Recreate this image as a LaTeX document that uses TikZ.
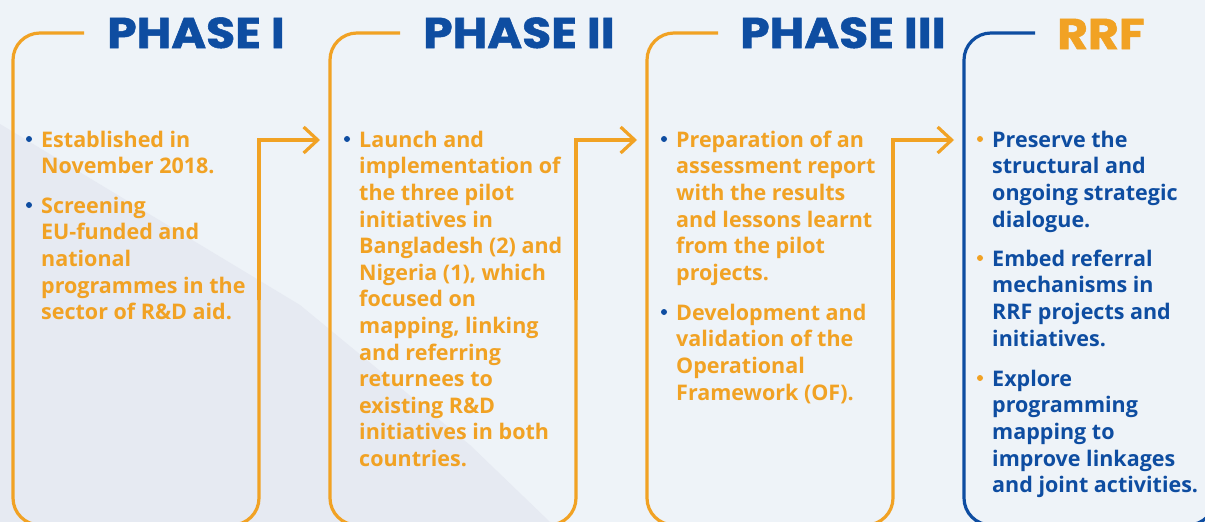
\documentclass[tikz,border=0pt]{standalone}
\usepackage{fontspec}
\setmainfont{Open Sans}
\newfontfamily\titlefont{Poppins}[BoldFeatures={FakeBold=1.2}]
\usetikzlibrary{arrows.meta}
\definecolor{org}{RGB}{241,162,36}
\definecolor{blu}{RGB}{14,77,161}
\definecolor{bgc}{RGB}{238,243,248}
\definecolor{bgd}{RGB}{230,234,242}
\newcommand{\wide}[1]{\scalebox{1.1}[1]{#1}}
\begin{document}
\begin{tikzpicture}[x=1pt,y=-1pt,
  frame/.style={line width=3.2pt, rounded corners=27pt},
  flow/.style={line width=3.2pt, -{Straight Barb[length=14pt,width=26pt]}},
  title/.style={font=\titlefont\bfseries\fontsize{43}{43}\selectfont, anchor=base west, inner sep=0pt},
  body/.style={font=\bfseries\fontsize{21.5}{26.6}\selectfont, anchor=north west, inner sep=0pt, align=left},
  dot/.style={circle, fill=#1, inner sep=0pt, minimum size=6pt}]
\useasboundingbox (0,0) rectangle (1205,522);
\fill[bgc] (0,0) rectangle (1205,522);
\fill[bgd] (0,124) -- (300,305) -- (470,445) -- (550,522) -- (0,522) -- cycle;

% frames
\draw[frame, org] (84,33) -- (13,33) -- (13,525) -- (259,525) -- (259,300);
\draw[frame, org] (400,33) -- (330,33) -- (330,525) -- (576,525) -- (576,300);
\draw[frame, org] (718,33) -- (647,33) -- (647,525) -- (893,525) -- (893,300);
\draw[frame, blu] (1035,33) -- (964,33) -- (964,525) -- (1215,525) -- (1215,300);

% connectors
\coordinate (a1) at (259,300); \coordinate (a1c) at (259,140); \coordinate (a1t) at (320,140);
\coordinate (a2) at (576,300); \coordinate (a2c) at (576,140); \coordinate (a2t) at (637,140);
\coordinate (a3) at (893,300); \coordinate (a3c) at (893,140); \coordinate (a3t) at (954,140);
\draw[flow, org] (a1) -- (a1c) -- (a1t);
\draw[flow, org] (a2) -- (a2c) -- (a2t);
\draw[flow, org] (a3) -- (a3c) -- (a3t);

% titles
\node[title, text=blu] (t1) at (107,48) {\wide{PHASE I}};
\node[title, text=blu] (t2) at (423,48) {\wide{PHASE II}};
\node[title, text=blu] (t3) at (740,48) {\wide{PHASE III}};
\node[title, text=org] (t4) at (1057,49) {\wide{RRF}};

% Phase I
\node[dot=blu] (d11) at (29,139) {};
\node[body, text=org] (b11) at (41,128.4) {\strut Established in\\November 2018.};
\node[dot=blu] (d12) at (29,205) {};
\node[body, text=org] (b12) at (41,194.4) {\strut Screening\\EU-funded and\\national\\programmes in the\\sector of R\&D aid.};

% Phase II
\node[dot=blu] (d21) at (347,139) {};
\node[body, text=org] (b21) at (359,128.4) {\strut Launch and\\implementation of\\the three pilot\\initiatives in\\Bangladesh (2) and\\Nigeria (1), which\\focused on\\mapping, linking\\and referring\\returnees to\\existing R\&D\\initiatives in both\\countries.};

% Phase III
\node[dot=blu] (d31) at (664,139) {};
\node[body, text=org] (b31) at (676,128.4) {\strut Preparation of an\\assessment report\\with the results\\and lessons learnt\\from the pilot\\projects.};
\node[dot=blu] (d32) at (664,312) {};
\node[body, text=org] (b32) at (676,301.4) {\strut Development and\\validation of the\\Operational\\Framework (OF).};

% RRF
\node[dot=org] (d41) at (980,139) {};
\node[body, text=blu] (b41) at (992,128.4) {\strut Preserve the\\structural and\\ongoing strategic\\dialogue.};
\node[dot=org] (d42) at (980,258) {};
\node[body, text=blu] (b42) at (992,247.4) {\strut Embed referral\\mechanisms in\\RRF projects and\\initiatives.};
\node[dot=org] (d43) at (980,378) {};
\node[body, text=blu] (b43) at (992,367.4) {\strut Explore\\programming\\mapping to\\improve linkages\\and joint activities.};
\end{tikzpicture}
\end{document}
